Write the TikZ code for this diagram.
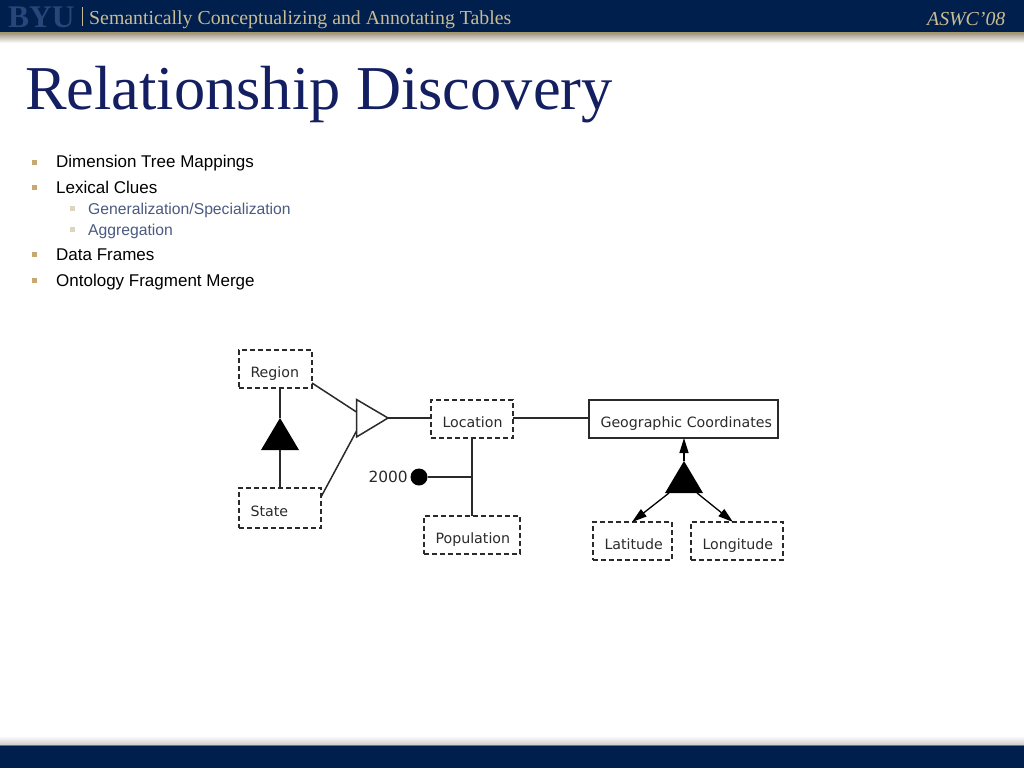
\documentclass[tikz,border=0pt]{standalone}
\usepackage{fontspec}
\setmainfont{Liberation Sans}
\newfontfamily\serifrm{Liberation Serif}
\newfontfamily\diagfont{DejaVu Sans}
\usetikzlibrary{arrows.meta}
\definecolor{navy}{HTML}{001F4D}
\definecolor{goldline}{HTML}{A89868}
\definecolor{goldtext}{HTML}{C9BC95}
\definecolor{titleblue}{HTML}{141F62}
\definecolor{byublue}{HTML}{27467A}
\definecolor{subtext}{HTML}{4A5A80}
\definecolor{bulleta}{HTML}{C8A870}
\definecolor{bulletb}{HTML}{DDD6BC}
\definecolor{ink}{HTML}{2A2A2A}
\tikzset{
  box/.style={draw=ink,line width=1.5pt,rectangle,outer sep=0pt,minimum height=38pt,inner xsep=0pt,inner ysep=0pt,
    text height=20pt,text depth=3pt,align=left,anchor=north west,text=ink,
    font=\diagfont\fontsize{14.2}{15}\selectfont},
  dashedbox/.style={box,dash pattern=on 5pt off 3pt},
  link/.style={draw=ink,line width=1.5pt},
  topic/.style={anchor=base west,inner sep=0pt,font=\fontsize{17}{19}\selectfont,text=black},
  subtopic/.style={anchor=base west,inner sep=0pt,font=\fontsize{15.7}{17}\selectfont,text=subtext},
  bul/.style={fill=bulleta,draw=none,minimum size=5pt,inner sep=0pt},
  subbul/.style={fill=bulletb,draw=none,minimum size=5pt,inner sep=0pt},
  headarrow/.style={draw=black,line width=1.3pt,-{Triangle[length=15pt,width=9pt]}},
}
\newcommand{\boxtext}[2]{\parbox[b]{#1pt}{\hspace*{11.5pt}#2}}
\begin{document}
\begin{tikzpicture}[x=1pt,y=-1pt]
\useasboundingbox (0,0) rectangle (1024,768);
% header and footer bands
\fill[navy] (0,0) rectangle (1024,32.5);
\fill[goldline] (0,32.5) rectangle (1024,34.5);
\shade[top color=black!38!goldline!55,bottom color=white] (0,34.5) rectangle (1024,43);
\shade[top color=white,bottom color=black!20!white] (0,736) rectangle (1024,745);
\fill[navy] (0,745) rectangle (1024,768);
\fill[black!35!white!60!blue] (0,744.6) rectangle (1024,745.4);
\node[anchor=base west,inner sep=0pt,text=byublue,font=\serifrm\bfseries\fontsize{31.5}{32}\selectfont] (byu) at (8,28) {BYU};
\fill[goldtext] (81.5,7) rectangle (82.5,26);
\node[anchor=base west,inner sep=0pt,text=goldtext,font=\serifrm\fontsize{19.8}{22}\selectfont] (talk) at (89,24.7) {Semantically Conceptualizing and Annotating Tables};
\node[anchor=base east,inner sep=0pt,text=goldtext,font=\serifrm\itshape\fontsize{19.8}{22}\selectfont] (conf) at (1005.5,25.5) {ASWC’08};
\node[anchor=base west,inner sep=0pt,text=titleblue,font=\serifrm\fontsize{62.4}{70}\selectfont] (title) at (25,109) {Relationship Discovery};
% bullets
\node[bul] (b1) at (34,162) {}; \node[topic] (t1) at (56,167.7) {Dimension Tree Mappings};
\node[bul] (b2) at (34,187.5) {}; \node[topic] (t2) at (56,193.4) {Lexical Clues};
\node[subbul] (b3) at (72.5,208.5) {}; \node[subtopic] (t3) at (88,214.5) {Generalization/Specialization};
\node[subbul] (b4) at (72.5,229) {}; \node[subtopic] (t4) at (88,235.3) {Aggregation};
\node[bul] (b5) at (34,254) {}; \node[topic] (t5) at (56,260) {Data Frames};
\node[bul] (b6) at (34,280) {}; \node[topic] (t6) at (56,286.2) {Ontology Fragment Merge};
% diagram boxes
\node[dashedbox,minimum width=73pt] (region) at (239,350) {\boxtext{73}{Region}};
\node[dashedbox,minimum width=82pt,minimum height=40pt,text height=19pt] (state) at (239,488) {\boxtext{82}{State}};
\node[dashedbox,minimum width=82pt] (location) at (431,400) {\boxtext{82}{Location}};
\node[dashedbox,minimum width=96pt] (population) at (424,516) {\boxtext{96}{Population}};
\node[box,minimum width=189pt] (geo) at (589,400) {\boxtext{189}{Geographic Coordinates}};
\node[dashedbox,minimum width=79pt] (latitude) at (593,522) {\boxtext{79}{Latitude}};
\node[dashedbox,minimum width=92pt] (longitude) at (691,522) {\boxtext{92}{Longitude}};
% triangles
\coordinate (genTop) at (280,418); \coordinate (genL) at (261,450); \coordinate (genR) at (299,450); \coordinate (genBase) at (280,450);
\coordinate (aggTop) at (356.5,399.5); \coordinate (aggBot) at (356.5,437); \coordinate (aggTip) at (388,418);
\coordinate (aggIn1) at (356.5,412); \coordinate (aggIn2) at (356.5,431);
\coordinate (geoTop) at (684,461); \coordinate (geoL) at (665,493); \coordinate (geoR) at (703,493);
\coordinate (geoOutL) at (669,493); \coordinate (geoOutR) at (697,493);
\coordinate (latIn) at (632,522); \coordinate (lonIn) at (733,522);
\coordinate (regionOut) at (312,383); \coordinate (stateOut) at (321,497);
% connectors
\draw[link] (region.south -| genTop) -- (genTop);
\draw[link] (genBase) -- (state.north -| genBase);
\fill[black] (genTop) -- (genL) -- (genR) -- cycle;
\draw[link] (regionOut) -- (aggIn1);
\draw[link] (stateOut) -- (aggIn2);
\draw[link,fill=white] (aggTop) -- (aggTip) -- (aggBot) -- cycle;
\draw[link] (aggTip) -- (location.west |- aggTip);
\draw[link] (location.east |- aggTip) -- (geo.west |- aggTip);
\draw[link] (location.south) -- (population.north);
\node[circle,fill=black,minimum size=17pt,inner sep=0pt] (dot) at (419,477) {};
\node[anchor=east,inner sep=0pt,text=ink,font=\diagfont\fontsize{15.4}{16}\selectfont] (year) at (408,477) {2000};
\coordinate (popJoin) at (472,477);
\draw[link] (dot) -- (popJoin);
\fill[black] (geoTop) -- (geoL) -- (geoR) -- cycle;
\draw[headarrow] (geoTop) -- (geo.south -| geoTop);
\draw[headarrow] (geoOutL) -- (latIn);
\draw[headarrow] (geoOutR) -- (lonIn);
\end{tikzpicture}
\end{document}
